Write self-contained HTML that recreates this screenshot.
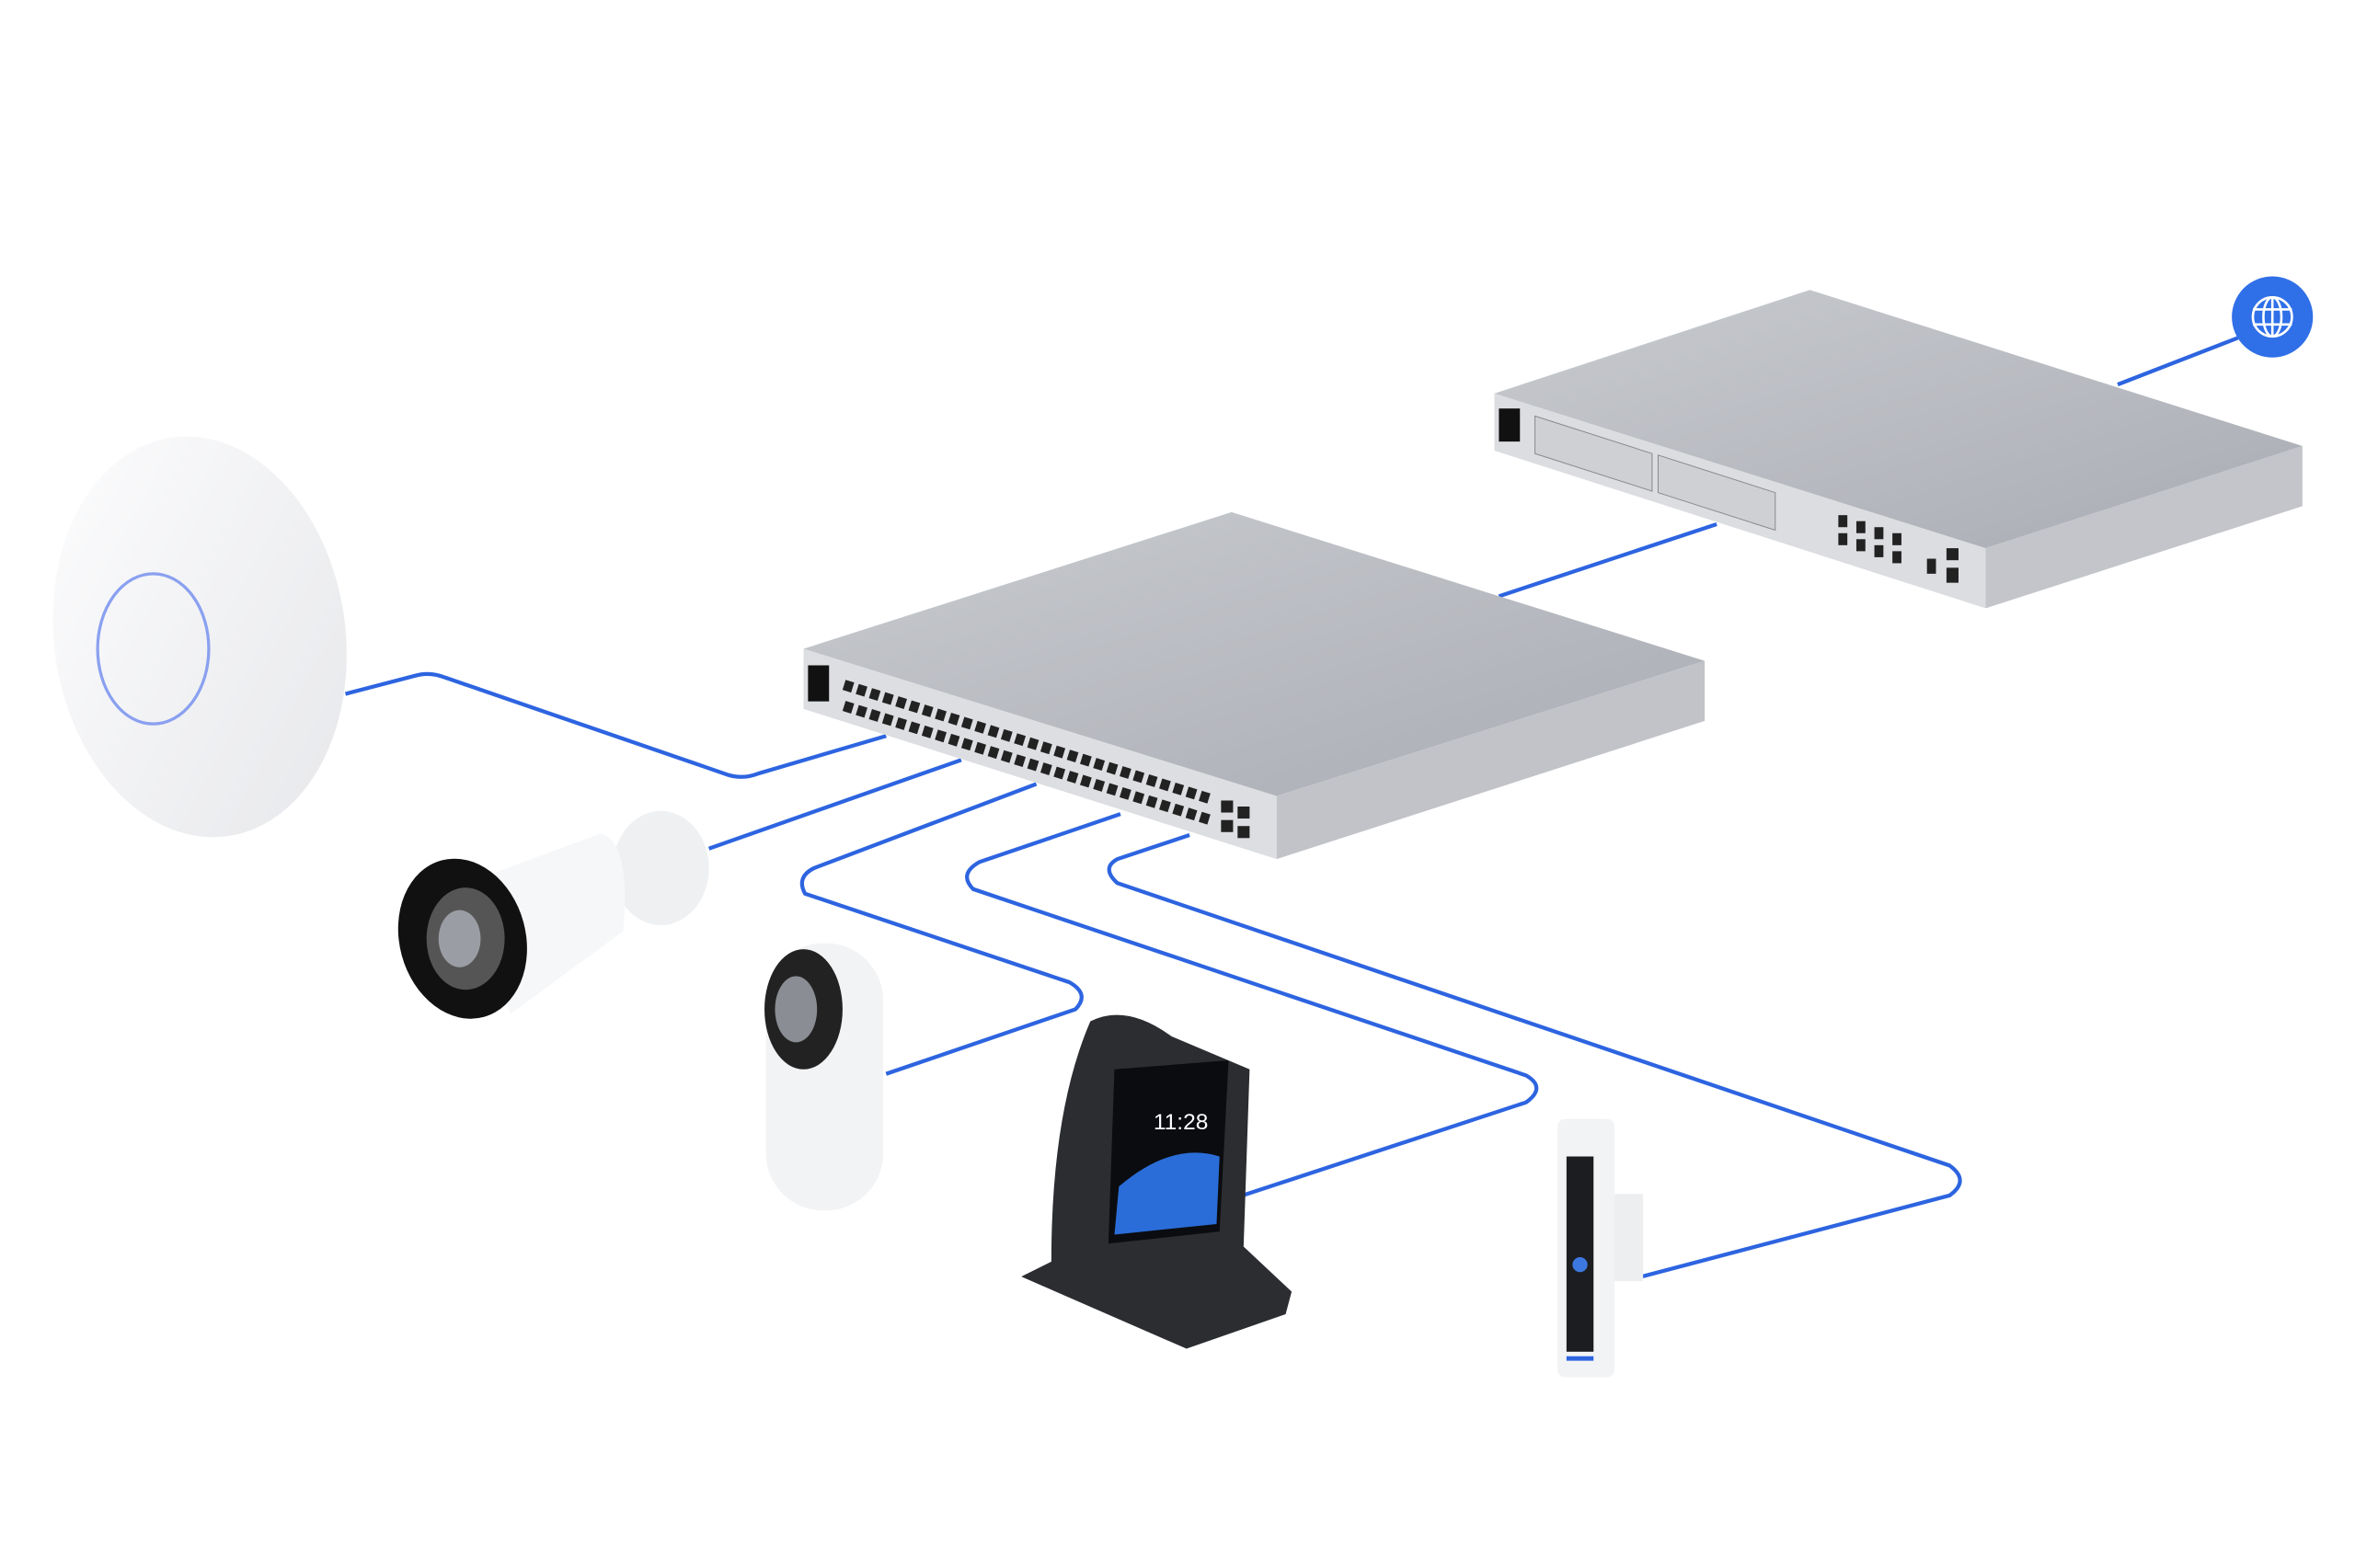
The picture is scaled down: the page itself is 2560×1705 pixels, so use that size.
<!DOCTYPE html>
<html><head><meta charset="utf-8"><style>
html,body{margin:0;padding:0;background:#fff;}
svg{display:block;}
</style></head><body>
<svg width="2560" height="1705" viewBox="0 0 1568 1044" preserveAspectRatio="none" xmlns="http://www.w3.org/2000/svg">
<defs>
<linearGradient id="top" x1="0" y1="0" x2="1" y2="1"><stop offset="0" stop-color="#c9cbd0"/><stop offset="1" stop-color="#a9acb3"/></linearGradient>
<linearGradient id="ap" x1="0" y1="0" x2="1" y2="1"><stop offset="0" stop-color="#fdfdfe"/><stop offset="1" stop-color="#e6e7ea"/></linearGradient>
</defs>
<rect width="1568" height="1044" fill="#fff"/>
<g fill="none" stroke="#2d64e0" stroke-width="2.6" stroke-linejoin="round">
<polyline points="1490,225 1410,256"/>
<polyline points="1143,349 998,397"/>
<path d="M230,462 L276,450 Q286,447 296,451 L485,516 Q495,519 505,515 L590,490"/>
<polyline points="472,565 640,506"/>
<path d="M690,522 L542,578 Q530,584 536,595 L712,654 Q726,662 716,672 L590,715"/>
<path d="M746,542 L652,574 Q638,582 648,592 L1016,716 Q1030,724 1016,734 L815,800"/>
<path d="M792,556 L744,572 Q733,578 744,588 L1298,776 Q1312,786 1298,796 L1093,850"/>
</g>
<!-- router -->
<polygon points="995,262 1205,193 1533,297 1322,365" fill="url(#top)"/>
<polygon points="995,262 1322,365 1322,405 995,300" fill="#dcdde0"/>
<polygon points="1322,365 1533,297 1533,337 1322,405" fill="#c3c5ca"/>
<rect x="998" y="272" width="14" height="22" fill="#111"/>
<polygon points="1022,277 1100,302 1100,327 1022,302" fill="#cfd0d4" stroke="#888" stroke-width="0.6"/>
<polygon points="1104,303 1182,328 1182,353 1104,328" fill="#cfd0d4" stroke="#888" stroke-width="0.6"/>
<g fill="#222"><rect x="1224" y="343" width="6" height="8"/><rect x="1236" y="347" width="6" height="8"/><rect x="1248" y="351" width="6" height="8"/><rect x="1260" y="355" width="6" height="8"/>
<rect x="1224" y="355" width="6" height="8"/><rect x="1236" y="359" width="6" height="8"/><rect x="1248" y="363" width="6" height="8"/><rect x="1260" y="367" width="6" height="8"/>
<rect x="1283" y="372" width="6" height="10"/><rect x="1296" y="365" width="8" height="8"/><rect x="1296" y="378" width="8" height="10"/></g>
<!-- globe -->
<circle cx="1513" cy="211" r="27" fill="#2f6fe8"/>
<g fill="none" stroke="#fff" stroke-width="1.6"><circle cx="1513" cy="211" r="13"/><ellipse cx="1513" cy="211" rx="6" ry="13"/><line x1="1500" y1="206" x2="1526" y2="206"/><line x1="1500" y1="216" x2="1526" y2="216"/><line x1="1513" y1="198" x2="1513" y2="224"/></g>
<!-- switch -->
<polygon points="535,432 820,341 1135,440 850,530" fill="url(#top)"/>
<polygon points="535,432 850,530 850,572 535,472" fill="#dddee1"/>
<polygon points="850,530 1135,440 1135,480 850,572" fill="#c1c3c8"/>
<rect x="538" y="443" width="14" height="24" fill="#111"/>
<g stroke="#222" stroke-width="7" stroke-dasharray="6,3.2">
<line x1="562" y1="456" x2="806" y2="532"/>
<line x1="562" y1="470" x2="806" y2="546"/>
</g>
<g fill="#222"><rect x="813" y="533" width="8" height="8"/><rect x="824" y="537" width="8" height="8"/><rect x="813" y="546" width="8" height="8"/><rect x="824" y="550" width="8" height="8"/></g>
<!-- access point -->
<ellipse cx="133" cy="424" rx="97" ry="134" transform="rotate(-8 133 424)" fill="url(#ap)"/>
<ellipse cx="102" cy="432" rx="37" ry="50" fill="none" stroke="#8aa0f0" stroke-width="2"/>
<!-- bullet camera -->
<ellipse cx="440" cy="578" rx="32" ry="38" fill="#eef0f2"/>
<path d="M305,590 L400,555 Q420,560 415,620 L340,675 Z" fill="#f6f7f8"/>
<ellipse cx="308" cy="625" rx="42" ry="54" transform="rotate(-15 308 625)" fill="#111"/>
<ellipse cx="310" cy="625" rx="26" ry="34" fill="#555"/>
<ellipse cx="306" cy="625" rx="14" ry="19" fill="#9a9da3"/>
<!-- G camera -->
<rect x="510" y="628" width="78" height="178" rx="38" fill="#f2f3f5"/>
<ellipse cx="535" cy="672" rx="26" ry="40" fill="#222"/>
<ellipse cx="530" cy="672" rx="14" ry="22" fill="#8a8d93"/>
<!-- phone -->
<path d="M726,680 Q750,668 780,690 L832,712 L828,830 L860,860 L856,875 L790,898 L680,850 L700,840 Q700,740 726,680 Z" fill="#2b2d31"/>
<polygon points="742,712 818,706 812,820 738,828" fill="#0b0c10"/>
<path d="M745,790 Q780,760 812,770 L810,815 L742,822 Z" fill="#2a6dd8"/>
<text x="768" y="752" font-family="Liberation Sans, sans-serif" font-size="15" fill="#fff">11:28</text>
<!-- doorbell -->
<rect x="1070" y="795" width="24" height="58" fill="#eceef0"/>
<rect x="1037" y="745" width="38" height="172" rx="5" fill="#f2f3f5"/>
<rect x="1043" y="770" width="18" height="130" fill="#1c1d20"/>
<circle cx="1052" cy="842" r="5" fill="#3c78e0"/>
<rect x="1043" y="903" width="18" height="3" fill="#2d64e0"/>
</svg>
</body></html>
